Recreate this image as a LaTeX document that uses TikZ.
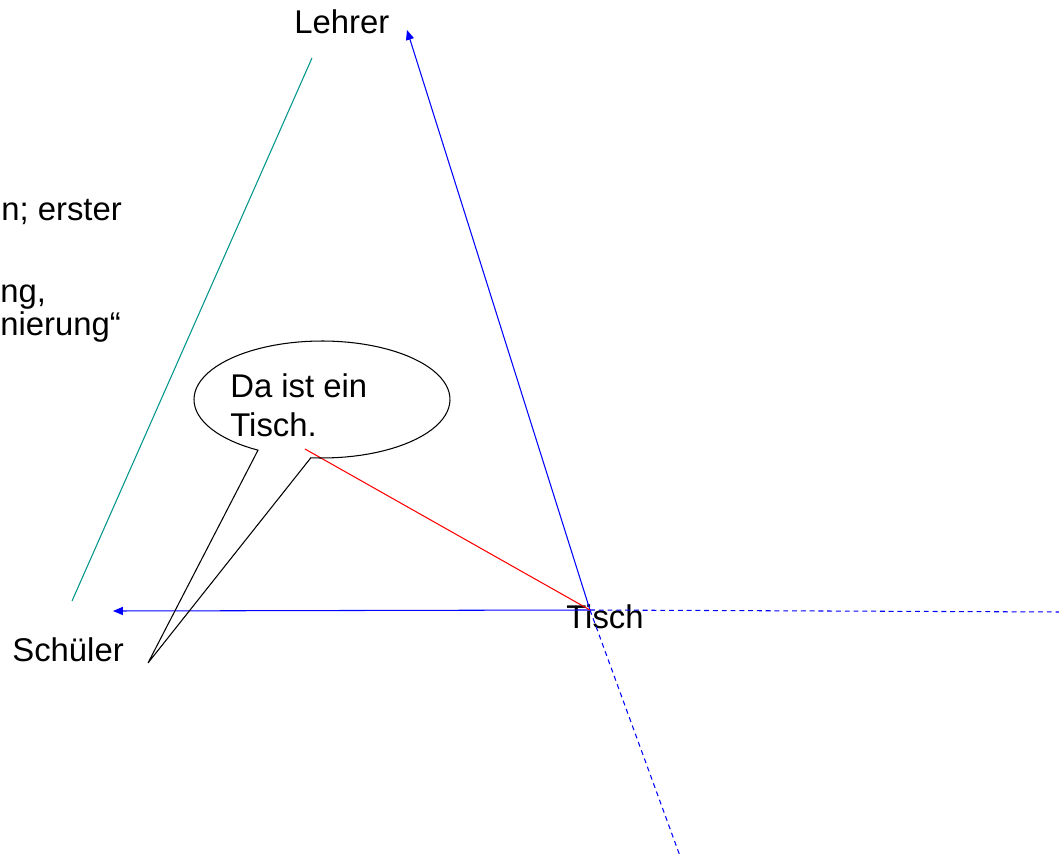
\documentclass[tikz,border=0pt]{standalone}
\usepackage{fontspec}
\setmainfont{Liberation Sans}
\usetikzlibrary{arrows.meta,positioning}
\definecolor{linie}{RGB}{0,150,140}
\tikzset{
  >={Triangle[length=5.6pt,width=4.6pt]},
  pfeil/.style={->,blue,line width=0.6pt},
  strich/.style={blue,line width=0.6pt,dash pattern=on 2.8pt off 2.2pt},
  txt/.style={anchor=base west,inner sep=0pt,font=\fontsize{18.7}{22.7}\selectfont},
}
\begin{document}
\begin{tikzpicture}[x=0.02cm,y=-0.02cm]
\useasboundingbox (0,0) rectangle (1059,858);

% Beschriftungen
\node[txt] (lehrer) at (294,34) {Lehrer};
\node[txt] (schueler) at (12,661) {Schüler};
\node[txt] (tisch) at (566,628) {Tisch};
\node[txt] (rest1) at (1,221) {n; erster};
\node[txt] (rest2) at (0,303) {ng,};
\node[txt] (rest3) at (0,336) {nierung“};

% Punkte
\coordinate (tischpt) at (590,610);
\coordinate (lehrerpt) at (407,30);
\coordinate (schuelerpt) at (113,611);
\coordinate (rechts) at (1059,612);
\coordinate (unten) at (680,856);
\coordinate (t1) at (312,58);
\coordinate (t2) at (72,601);
\coordinate (spitze) at (148,663);
\coordinate (blase) at (305,449);

% Linien
\draw[linie,line width=0.6pt] (t1) -- (t2);
\draw[pfeil] (tischpt) -- (lehrerpt);
\draw[pfeil] (tischpt) -- (schuelerpt);
\draw[strich] (tischpt) -- (rechts);
\draw[strich] (tischpt) -- (unten);
\draw[red,line width=0.6pt] (blase) -- (tischpt);

% Sprechblase
\draw[line width=0.6pt,line join=miter]
  plot[domain=120:455,samples=90] ({322+128*cos(\x)},{399.5+58.5*sin(\x)})
  -- (spitze) -- cycle;
\node[txt,align=left] (satz) at (230,437) {Da ist ein\\Tisch.};

\end{tikzpicture}
\end{document}
